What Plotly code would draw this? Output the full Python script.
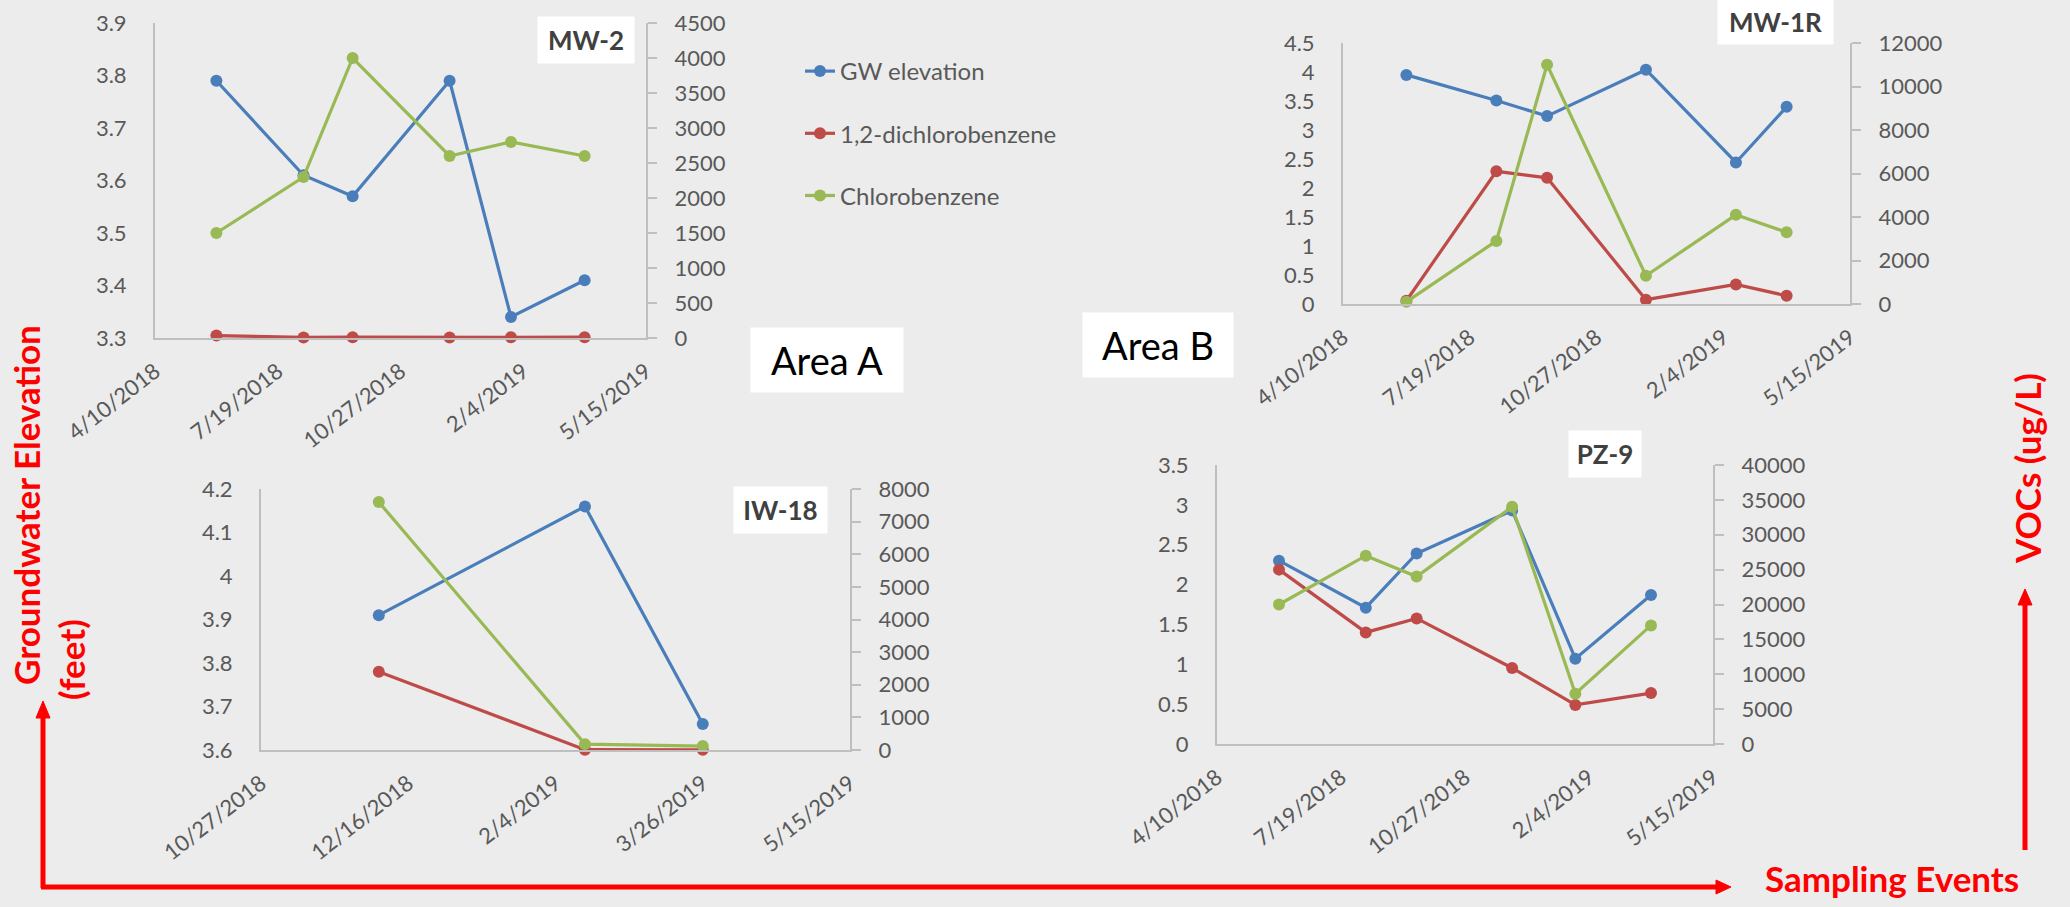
import plotly.graph_objects as go

# ---------------- data ----------------
# MW-2 (Area A)
mw2_dates = ["2018-05-30", "2018-08-09", "2018-09-18", "2018-12-06", "2019-01-25", "2019-03-26"]
mw2_gw = [3.79, 3.61, 3.57, 3.79, 3.34, 3.41]
mw2_dcb = [35, 8, 12, 6, 10, 12]
mw2_cb = [1500, 2300, 4000, 2600, 2800, 2600]

# MW-1R (Area B)
mw1r_dates = ["2018-05-30", "2018-08-09", "2018-09-18", "2018-12-05", "2019-02-14", "2019-03-26"]
mw1r_gw = [3.95, 3.51, 3.24, 4.04, 2.44, 3.40]
mw1r_dcb = [150, 6100, 5800, 200, 900, 380]
mw1r_cb = [100, 2900, 11000, 1300, 4100, 3300]

# IW-18 (Area A)
iw18_dates = ["2018-12-06", "2019-02-14", "2019-03-26"]
iw18_gw = [3.91, 4.16, 3.66]
iw18_dcb = [2400, 10, 5]
iw18_cb = [7600, 180, 120]

# PZ-9 (Area B)
pz9_dates = ["2018-05-30", "2018-08-08", "2018-09-18", "2018-12-04", "2019-01-24", "2019-03-26"]
pz9_gw = [2.30, 1.71, 2.39, 2.93, 1.07, 1.87]
pz9_dcb = [25000, 16000, 18000, 10900, 5600, 7300]
pz9_cb = [20000, 27000, 24000, 34000, 7200, 17000]

series_names = ["GW elevation", "1,2-dichlorobenzene", "Chlorobenzene"]

# date axis ticks
dates_long = ["2018-04-10", "2018-07-19", "2018-10-27", "2019-02-04", "2019-05-15"]
labels_long = ["4/10/2018", "7/19/2018", "10/27/2018", "2/4/2019", "5/15/2019"]
dates_short = ["2018-10-27", "2018-12-16", "2019-02-04", "2019-03-26", "2019-05-15"]
labels_short = ["10/27/2018", "12/16/2018", "2/4/2019", "3/26/2019", "5/15/2019"]

# value axis ticks
mw2_left_ticks = [3.3, 3.4, 3.5, 3.6, 3.7, 3.8, 3.9]
mw2_right_ticks = [0, 500, 1000, 1500, 2000, 2500, 3000, 3500, 4000, 4500]
mw1r_left_ticks = [0, 0.5, 1, 1.5, 2, 2.5, 3, 3.5, 4, 4.5]
mw1r_right_ticks = [0, 2000, 4000, 6000, 8000, 10000, 12000]
iw18_left_ticks = [3.6, 3.7, 3.8, 3.9, 4.0, 4.1, 4.2]
iw18_right_ticks = [0, 1000, 2000, 3000, 4000, 5000, 6000, 7000, 8000]
pz9_left_ticks = [0, 0.5, 1, 1.5, 2, 2.5, 3, 3.5]
pz9_right_ticks = [0, 5000, 10000, 15000, 20000, 25000, 30000, 35000, 40000]

# ---------------- layout helpers ----------------
W, H = 2070, 907
FONT = "Lato, 'Open Sans', sans-serif"
TICK_COLOR = "#595959"
AXIS_COLOR = "#bfbfbf"
COLORS = ["#4a7ebb", "#be4b48", "#98b954"]
BG = "#ececec"


def fx(px):
    return px / W


def fy(px):
    return 1 - px / H


panels = [
    dict(title="MW-2", dates=mw2_dates, vals=[mw2_gw, mw2_dcb, mw2_cb],
         xt=(dates_long, labels_long), lt=mw2_left_ticks, rt=mw2_right_ticks,
         box=(155, 646, 23, 338), label=(538, 634, 17, 63)),
    dict(title="MW-1R", dates=mw1r_dates, vals=[mw1r_gw, mw1r_dcb, mw1r_cb],
         xt=(dates_long, labels_long), lt=mw1r_left_ticks, rt=mw1r_right_ticks,
         box=(1343, 1850, 43, 304), label=(1718, 1833, 0, 44)),
    dict(title="IW-18", dates=iw18_dates, vals=[iw18_gw, iw18_dcb, iw18_cb],
         xt=(dates_short, labels_short), lt=iw18_left_ticks, rt=iw18_right_ticks,
         box=(261, 850, 489, 750), label=(734, 827, 487, 533)),
    dict(title="PZ-9", dates=pz9_dates, vals=[pz9_gw, pz9_dcb, pz9_cb],
         xt=(dates_long, labels_long), lt=pz9_left_ticks, rt=pz9_right_ticks,
         box=(1217, 1713, 465, 744), label=(1569, 1641, 431, 477)),
]

fig = go.Figure()
layout = {}
annotations = []
shapes = []

for i, p in enumerate(panels):
    n = i + 1
    xname = "x" if n == 1 else f"x{n}"
    yl = 2 * n - 1
    yr = 2 * n
    ylname = "y" if yl == 1 else f"y{yl}"
    yrname = f"y{yr}"
    x0, x1, y0, y1 = p["box"]
    tickvals, ticktext = p["xt"]

    for k, (vals, name) in enumerate(zip(p["vals"], series_names)):
        fig.add_trace(go.Scatter(
            x=p["dates"], y=vals, name=name, mode="lines+markers",
            line=dict(color=COLORS[k], width=3.2),
            marker=dict(color=COLORS[k], size=12),
            xaxis=xname, yaxis=ylname if k == 0 else yrname,
            showlegend=(i == 0), legendgroup=name, cliponaxis=False,
        ))

    layout["xaxis" if n == 1 else f"xaxis{n}"] = dict(
        domain=[fx(x0), fx(x1)], anchor=ylname, type="date",
        range=[tickvals[0], tickvals[-1]], tickmode="array",
        tickvals=tickvals, ticktext=ticktext, tickangle=-38,
        showline=True, linecolor=AXIS_COLOR, linewidth=2,
        showgrid=False, zeroline=False, ticks="", automargin=False,
        ticklabelstandoff=10,
        tickfont=dict(family=FONT, size=22, color=TICK_COLOR),
    )
    lt = p["lt"]
    layout["yaxis" if yl == 1 else f"yaxis{yl}"] = dict(
        domain=[fy(y1), fy(y0)], anchor=xname, range=[lt[0], lt[-1]],
        tickmode="array", tickvals=lt, ticktext=[f"{v:g}" for v in lt],
        showline=True, linecolor=AXIS_COLOR, linewidth=2,
        showgrid=False, zeroline=False, ticks="", automargin=False,
        ticklabelstandoff=22,
        tickfont=dict(family=FONT, size=22, color=TICK_COLOR),
    )
    rt = p["rt"]
    layout[f"yaxis{yr}"] = dict(
        domain=[fy(y1), fy(y0)], anchor=xname, overlaying=ylname, side="right",
        range=[rt[0], rt[-1]], tickmode="array", tickvals=rt,
        ticktext=[str(v) for v in rt],
        showline=True, linecolor=AXIS_COLOR, linewidth=2,
        showgrid=False, zeroline=False, ticks="outside", ticklen=9,
        tickcolor=AXIS_COLOR, tickwidth=2, ticklabelstandoff=13, automargin=False,
        tickfont=dict(family=FONT, size=22, color=TICK_COLOR),
    )

    # well name tag
    lx0, lx1, ly0, ly1 = p["label"]
    annotations.append(dict(
        xref="paper", yref="paper", x=fx((lx0 + lx1) / 2), y=fy((ly0 + ly1) / 2),
        xanchor="center", yanchor="middle", text=f"<b>{p['title']}</b>",
        showarrow=False, bgcolor="white", width=lx1 - lx0, height=ly1 - ly0,
        borderpad=0, font=dict(family=FONT, size=26, color="#404040"),
    ))

# area tags
for text, (ax0, ax1, ay0, ay1) in [("Area A", (751, 903, 328, 392)), ("Area B", (1083, 1233, 313, 377))]:
    annotations.append(dict(
        xref="paper", yref="paper", x=fx((ax0 + ax1) / 2), y=fy((ay0 + ay1) / 2),
        xanchor="center", yanchor="middle", text=text, showarrow=False,
        bgcolor="white", width=ax1 - ax0, height=ay1 - ay0, borderpad=0,
        font=dict(family=FONT, size=38, color="black"),
    ))

# red axis titles
RED = "#ff0000"
title_font = dict(family=FONT, size=35, color=RED)
annotations += [
    dict(xref="paper", yref="paper", x=fx(26), y=fy(505), text="<b>Groundwater Elevation</b>",
         textangle=-90, showarrow=False, xanchor="center", yanchor="middle", font=title_font),
    dict(xref="paper", yref="paper", x=fx(71), y=fy(660), text="<b>(feet)</b>",
         textangle=-90, showarrow=False, xanchor="center", yanchor="middle", font=title_font),
    dict(xref="paper", yref="paper", x=fx(2027), y=fy(469), text="<b>VOCs (ug/L)</b>",
         textangle=-90, showarrow=False, xanchor="center", yanchor="middle", font=title_font),
    dict(xref="paper", yref="paper", x=fx(1892), y=fy(878), text="<b>Sampling Events</b>",
         showarrow=False, xanchor="center", yanchor="middle", font=title_font),
]

# red arrows
line = dict(color=RED, width=5)
shapes += [
    dict(type="line", xref="paper", yref="paper", x0=fx(43), x1=fx(43), y0=fy(888), y1=fy(714), line=line),
    dict(type="line", xref="paper", yref="paper", x0=fx(41), x1=fx(1720), y0=fy(887), y1=fy(887), line=line),
    dict(type="line", xref="paper", yref="paper", x0=fx(2025), x1=fx(2025), y0=fy(850), y1=fy(600), line=line),
]


def tri(pts):
    d = "M " + " L ".join(f"{fx(a)},{fy(b)}" for a, b in pts) + " Z"
    return dict(type="path", xref="paper", yref="paper", path=d,
                fillcolor=RED, line=dict(color=RED, width=1))


shapes += [
    tri([(43, 701), (36, 718), (50, 718)]),
    tri([(1731, 887), (1716, 880), (1716, 894)]),
    tri([(2025, 589), (2018, 605), (2032, 605)]),
]

layout.update(
    width=W, height=H, margin=dict(l=0, r=0, t=0, b=0, autoexpand=False),
    paper_bgcolor=BG, plot_bgcolor="rgba(0,0,0,0)",
    font=dict(family=FONT, color=TICK_COLOR),
    showlegend=True,
    legend=dict(x=fx(800), y=fy(49), xanchor="left", yanchor="top",
                bgcolor="rgba(0,0,0,0)", tracegroupgap=28,
                font=dict(family=FONT, size=24, color=TICK_COLOR)),
    annotations=annotations, shapes=shapes,
)
fig.update_layout(**layout)

fig.write_html("out.html")
